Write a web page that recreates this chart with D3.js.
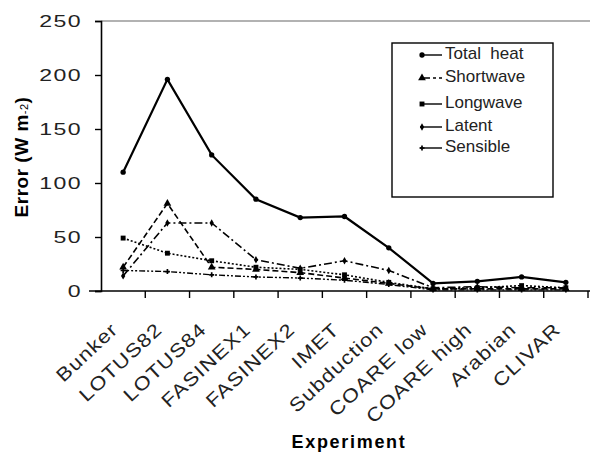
<!DOCTYPE html>
<html>
<head>
<meta charset="utf-8">
<script src="https://cdn.jsdelivr.net/npm/d3@7"></script>
<style>
  body { margin: 0; background: #fff; }
  text { font-family: "Liberation Sans", Arial, sans-serif; }
</style>
</head>
<body>
<div id="graph"></div>
<script>
// categories on x
const experiments = ["Bunker", "LOTUS82", "LOTUS84", "FASINEX1", "FASINEX2", "IMET",
  "Subduction", "COARE low", "COARE high", "Arabian", "CLIVAR"];

// errors (W m-2)
const totalHeat = [110, 196, 126, 85, 68, 69, 40, 7, 9, 13, 8];
const shortwave = [22, 81, 22, 20, 17, 12, 7, 2, 2, 2, 2];
const longwave  = [49, 35, 28, 22, 20, 15, 8, 2, 3, 5, 3];
const latent    = [14, 63, 63, 29, 21, 28, 19, 3, 4, 3, 3];
const sensible  = [19, 18, 15, 13, 12, 10, 6, 1, 1, 1, 1];

const yTicks = [0, 50, 100, 150, 200, 250];

const seriesNames = ["Total heat", "Shortwave", "Longwave", "Latent", "Sensible"];
const seriesValues = [totalHeat, shortwave, longwave, latent, sensible];

// style per series (dash + marker)
const dashes = [null, "6,3", "2,2", "8,3,2,3", "6,2,2,2,2,2"];
const widths = [2.2, 1.6, 1.6, 1.6, 1.4];
const symbols = [d3.symbolCircle, d3.symbolTriangle, d3.symbolSquare, d3.symbolDiamond, d3.symbolCross];
const symSize = [22, 26, 24, 16, 14];

const W = 590, H = 455;
const margin = { top: 21, right: 0, bottom: 164, left: 101 };
const width = W - margin.left - margin.right;
const height = H - margin.top - margin.bottom;

const svg = d3.select("#graph").append("svg")
  .attr("width", W).attr("height", H);

const g = svg.append("g")
  .attr("transform", "translate(" + margin.left + "," + margin.top + ")");

const x = d3.scaleBand().domain(experiments).range([0, width - 2]);
const y = d3.scaleLinear().domain([0, 250]).range([height, 0]);

// top border (grey)
g.append("line")
  .attr("x1", 0).attr("x2", width).attr("y1", 0).attr("y2", 0)
  .attr("stroke", "#999").attr("stroke-width", 1.5);

// y axis
const yAxis = g.append("g")
  .call(d3.axisLeft(y).tickValues(yTicks).tickSize(6));
yAxis.select(".domain").attr("stroke-width", 1.6);
yAxis.selectAll(".tick line").attr("stroke-width", 1.4);
yAxis.selectAll("text")
  .attr("x", null)
  .attr("transform", "translate(-19,0) scale(1.4,1)")
  .attr("font-size", 16.5).attr("letter-spacing", "1px").attr("fill", "#222");

// x axis with ticks at band edges
const xAxis = g.append("g").attr("transform", "translate(0," + height + ")");
xAxis.append("line")
  .attr("x1", -12).attr("x2", width).attr("stroke", "#000").attr("stroke-width", 1.6);
xAxis.selectAll("line.tk")
  .data(experiments.slice(1).concat(["end"]))
  .enter().append("line")
  .attr("class", "tk")
  .attr("x1", (d, i) => x.step() * (i + 1))
  .attr("x2", (d, i) => x.step() * (i + 1))
  .attr("y1", 0).attr("y2", 7)
  .attr("stroke", "#000").attr("stroke-width", 1.4);
xAxis.selectAll("text")
  .data(experiments)
  .enter().append("text")
  .attr("transform", d => "translate(" + (x(d) + x.bandwidth() / 2 - 4) + ",40) rotate(-43) scale(1.15,1)")
  .attr("text-anchor", "end")
  .attr("font-size", 19)
  .attr("letter-spacing", "1px")
  .attr("fill", "#222")
  .text(d => d);

// axis titles
svg.append("text")
  .attr("transform", "translate(28," + (margin.top + 136) + ") rotate(-90)")
  .attr("text-anchor", "middle")
  .attr("font-size", 19).attr("font-weight", "bold")
  .attr("letter-spacing", "0.5px")
  .html('Error (W m<tspan font-size="11" font-weight="normal">-2</tspan>)');

svg.append("text")
  .attr("x", 349).attr("y", 448)
  .attr("text-anchor", "middle")
  .attr("font-size", 18).attr("font-weight", "bold")
  .attr("letter-spacing", "1.7px")
  .text("Experiment");

// lines
const line = d3.line()
  .x((d, i) => x(experiments[i]) + x.bandwidth() / 2)
  .y(d => y(d));

seriesValues.forEach((vals, s) => {
  g.append("path")
    .datum(vals)
    .attr("d", line)
    .attr("fill", "none")
    .attr("stroke", "#000")
    .attr("stroke-width", widths[s])
    .attr("stroke-dasharray", dashes[s]);
  g.selectAll(".m" + s)
    .data(vals)
    .enter().append("path")
    .attr("class", "m" + s)
    .attr("transform", (d, i) => "translate(" + (x(experiments[i]) + x.bandwidth() / 2) + "," + y(d) + ")")
    .attr("d", d3.symbol().type(symbols[s]).size(symSize[s]))
    .attr("fill", "#000");
});

// legend
const leg = svg.append("g");
leg.append("rect")
  .attr("x", 392).attr("y", 43).attr("width", 161).attr("height", 154)
  .attr("fill", "#fff").attr("stroke", "#000").attr("stroke-width", 1.4);
const rowsY = [59, 82, 108, 131, 152];
seriesNames.forEach((name, s) => {
  const ry = rowsY[s] - 4;
  leg.append("line")
    .attr("x1", 420).attr("x2", 442).attr("y1", ry).attr("y2", ry)
    .attr("stroke", "#000").attr("stroke-width", 1.4)
    .attr("stroke-dasharray", s === 1 ? "10,3,3,3" : null);
  leg.append("path")
    .attr("transform", "translate(422," + ry + ")")
    .attr("d", d3.symbol().type(symbols[s]).size(symSize[s]))
    .attr("fill", "#000");
  leg.append("text")
    .attr("x", 445).attr("y", rowsY[s])
    .attr("font-size", 17)
    .attr("fill", "#222")
    .attr("xml:space", "preserve")
    .text(s === 0 ? "Total  heat" : name);
});
</script>
</body>
</html>
